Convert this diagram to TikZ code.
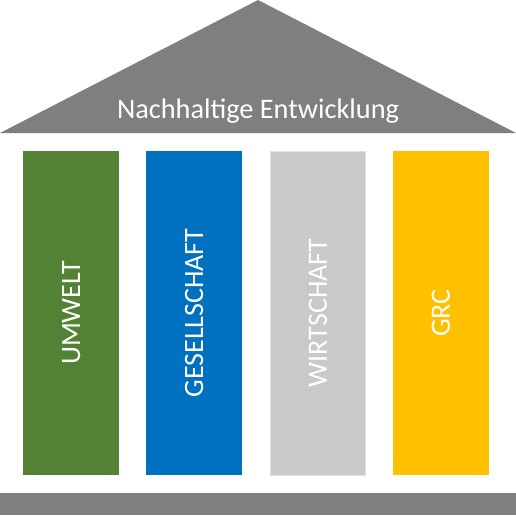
\documentclass[tikz,border=0pt]{standalone}
\usepackage{fontspec}
\setmainfont{Carlito}
\definecolor{roofgray}{HTML}{7F7F7F}
\definecolor{pgreen}{HTML}{548235}
\definecolor{pblue}{HTML}{0070C0}
\definecolor{pgray}{HTML}{C9C9C9}
\definecolor{pyellow}{HTML}{FFC000}
\tikzset{
  pillar/.style={draw=none, inner sep=0pt, minimum width=95.5pt, minimum height=324pt},
  pillartext/.style={text=white, font=\fontsize{28}{30}\selectfont, rotate=90, inner sep=0pt},
  rooftext/.style={text=white, font=\fontsize{28.3}{30}\selectfont, inner sep=0pt, anchor=base}
}
\begin{document}
\begin{tikzpicture}[x=1pt,y=-1pt]
\useasboundingbox (0,0) rectangle (516,515);
% roof
\fill[roofgray] (0,133) -- (258,0) -- (516,133) -- cycle;
\node[rooftext] (roof) at (258,118) {Nachhaltige Entwicklung};
% pillars
\node[pillar, fill=pgreen] (p1) at (71.2,313) {};
\node[pillar, fill=pblue] (p2) at (194.2,313) {};
\node[pillar, fill=pgray, draw=black!12, line width=0.8pt] (p3) at (317.8,313) {};
\node[pillar, fill=pyellow] (p4) at (440.8,313) {};
\node[pillartext] at (p1) {UMWELT};
\node[pillartext] at (p2) {GESELLSCHAFT};
\node[pillartext] at (p3) {WIRTSCHAFT};
\node[pillartext] at (p4) {GRC};
% base
\fill[roofgray] (0,492.7) rectangle (516,515);
\end{tikzpicture}
\end{document}
